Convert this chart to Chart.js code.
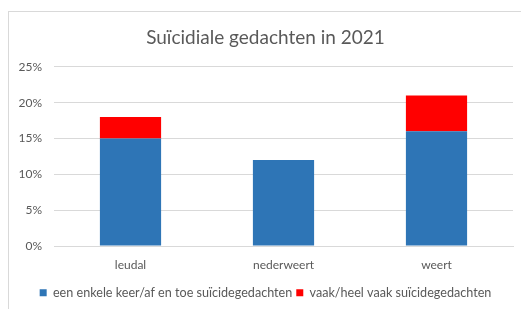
<!DOCTYPE html>
<html><head><meta charset="utf-8">
<script src="https://cdn.jsdelivr.net/npm/chart.js@4/dist/chart.umd.min.js"></script>
<style>
html,body{margin:0;padding:0;background:#fff;}
#wrap{position:relative;width:521px;height:309px;}
#frame{position:absolute;left:8px;top:11px;width:530px;height:320px;border:1px solid #d9d9d9;pointer-events:none;}
canvas{position:absolute;left:0;top:0;}
</style></head>
<body>
<div id="wrap"><canvas id="c" width="521" height="309"></canvas><div id="frame"></div></div>
<script>
const categories = ['leudal', 'nederweert', 'weert'];
const seriesNames = ['een enkele keer/af en toe suïcidegedachten', 'vaak/heel vaak suïcidegedachten'];
const occasional = [15, 12, 16];
const often = [3, 0, 5];
const yTicks = [0, 5, 10, 15, 20, 25];
const titleText = 'Suïcidiale gedachten in 2021';

const FONT = 'Lato, "Liberation Sans", sans-serif';
Chart.defaults.font.family = FONT;
Chart.defaults.color = '#595959';

new Chart(document.getElementById('c'), {
  type: 'bar',
  data: {
    labels: categories,
    datasets: [
      {label: seriesNames[0], data: occasional, backgroundColor: '#2e75b6', categoryPercentage: 1, barPercentage: 0.4},
      {label: seriesNames[1], data: often, backgroundColor: '#ff0000', categoryPercentage: 1, barPercentage: 0.4}
    ]
  },
  options: {
    responsive: false,
    animation: false,
    layout: {padding: {left: 18, right: 8, top: 26, bottom: 0}},
    plugins: {
      title: {display: true, text: titleText, color: '#595959', font: {size: 19, weight: 'normal', family: FONT}, padding: {top: 0, bottom: 18}},
      legend: {position: 'bottom', labels: {boxWidth: 7, boxHeight: 7, padding: 4, font: {size: 12.6}, color: '#595959'}},
      tooltip: {enabled: false}
    },
    scales: {
      x: {stacked: true, grid: {display: false}, border: {color: '#d9d9d9'}, ticks: {font: {size: 12}, color: '#595959', padding: 4},
          afterFit: s => { s.height += 6; }},
      y: {stacked: true, min: 0, max: 25, afterBuildTicks: s => { s.ticks = yTicks.map(v => ({value: v})); },
          afterFit: s => { s.width = 36; },
          grid: {color: '#d9d9d9', drawTicks: false}, border: {display: false},
          ticks: {font: {size: 12}, color: '#595959', padding: 12, callback: v => v + '%'}}
    }
  }
});
</script>
</body></html>
